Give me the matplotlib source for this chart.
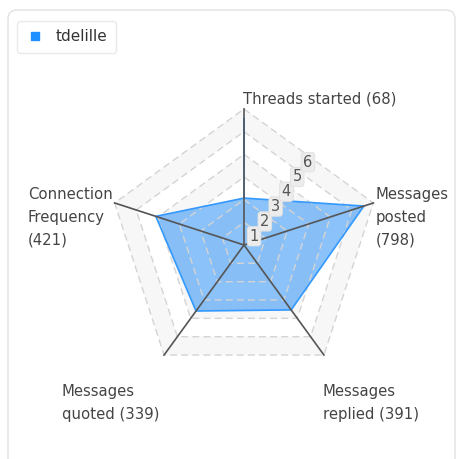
import numpy as np
import matplotlib
matplotlib.use('Agg')
import matplotlib.pyplot as plt
from matplotlib.patches import FancyBboxPatch
from matplotlib.lines import Line2D

# data (radar values read on the 0-6 scale of the chart)
series_name = 'tdelille'
axis_labels = ['Threads started (68)', 'Messages\nposted\n(798)', 'Messages\nreplied (391)',
               'Messages\nquoted (339)', 'Connection\nFrequency\n(421)']
values = [2.07, 5.56, 3.54, 3.6, 4.09]
ring_levels = [1, 2, 3, 4, 5, 6]

W, H = 457, 459
fig = plt.figure(figsize=(W / 100, H / 100), dpi=100)
ax = fig.add_axes([0, 0, 1, 1])
unit = 136 / 6.0
cx, cy = 244, 245
ax.set_xlim(-cx / unit, (W - cx) / unit)
ax.set_ylim(-(H - cy) / unit, cy / unit)
ax.axis('off')

n = len(axis_labels)
theta = np.arange(n) * 2 * np.pi / n
sx, sy = np.sin(theta), np.cos(theta)

def ring(r):
    return np.append(r * sx, r * sx[0]), np.append(r * sy, r * sy[0])

# card
card = FancyBboxPatch((8 / W, -0.05), (447 / W), 1.05 - 10 / H, transform=fig.transFigure,
                      boxstyle='round,pad=0,rounding_size=0.02', fc='white', ec='#e2e2e2', lw=1,
                      zorder=-1)
fig.patches.append(card)

# alternating bands
for k in ring_levels:
    if k % 2 == 0:
        xo, yo = ring(k)
        xi, yi = ring(k - 1)
        ax.fill(np.concatenate([xo, xi[::-1]]), np.concatenate([yo, yi[::-1]]),
                color='#f7f7f7', lw=0, zorder=1)

# series fill
vx, vy = ring(np.array(values))
ax.fill(vx, vy, color='#1987f5', alpha=0.5, lw=0, zorder=2)

# dashed rings
for k in ring_levels:
    xr, yr = ring(k)
    ax.plot(xr, yr, color='#d4d4d4', lw=1, ls=(0, (5, 3)), zorder=3)

ax.plot(vx, vy, color='#3399ff', lw=1.2, zorder=4)

# spokes
for i in range(n):
    ax.plot([0, 6 * sx[i]], [0, 6 * sy[i]], color='#555555', lw=1.2, zorder=5)

# ring labels along the first edge
mid = np.pi / n
for k in ring_levels:
    r = k * np.cos(mid)
    ax.text(r * np.sin(mid) - 0.03, r * np.cos(mid) - 0.27, str(k), fontsize=10.5, color='#555555',
            ha='center', va='center', zorder=6,
            bbox=dict(boxstyle='round,pad=0.15,rounding_size=0.2', fc='#ececec', ec='#e0e0e0', lw=0.6))

# axis labels
offsets = [(-1, 2, 'left', 'bottom'), (2, 16, 'left', 'top'), (-1, -29, 'left', 'top'),
           (-5, -29, 'right', 'top'), (-2, 16, 'right', 'top')]
for i, lab in enumerate(axis_labels):
    dx, dy, ha, va = offsets[i]
    ax.annotate(lab, (6 * sx[i], 6 * sy[i]), xytext=(dx, dy), textcoords='offset pixels',
                ha=ha, va=va, fontsize=10.7, color='#444444', linespacing=1.65,
                multialignment='left', zorder=7)

# legend
h = Line2D([], [], marker='s', ls='none', color='#1e90ff', markersize=6)
leg = fig.legend([h], [series_name], loc='upper left', bbox_to_anchor=(17 / W, 1 - 21 / H),
                 borderaxespad=0, frameon=True, fancybox=True, fontsize=11,
                 handletextpad=0.8, borderpad=0.55, handlelength=1.2)
leg.get_frame().set_edgecolor('#e4e4e4')
leg.get_frame().set_linewidth(1)
for t in leg.get_texts():
    t.set_color('#333333')

fig.savefig('out.png', dpi=100)
